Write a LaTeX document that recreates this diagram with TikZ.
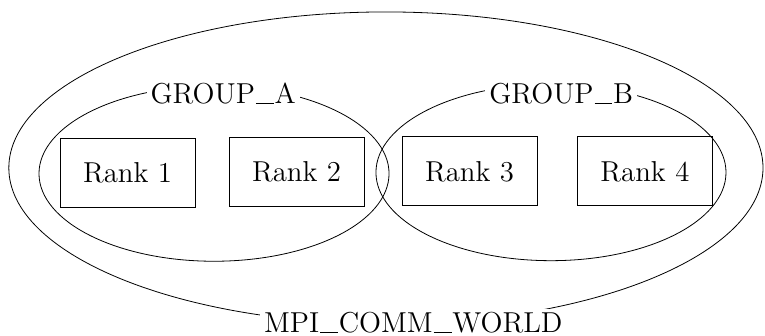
\documentclass[tikz,border=0pt]{standalone}
\usepackage{amsmath, amssymb}
\usepackage{xcolor}
\usepackage{tikz}
\usetikzlibrary{shapes.geometric}

% underscore sitting on the baseline, as in the figure
\newcommand{\uscore}{\kern0.03em\rule{0.62em}{0.45pt}\kern0.03em}

\tikzset{
  rank/.style={draw, rectangle, minimum width=2.37cm, minimum height=1.21cm, inner sep=0pt},
  commset/.style={draw, ellipse, inner sep=0pt},
  setname/.style={fill=white, inner sep=2pt, anchor=base}
}

\begin{document}
\begin{tikzpicture}[scale=1.0, every node/.style={font=\Large}]
          \useasboundingbox (0,0) rectangle (13.44,5.90);

          \node[commset, minimum width=13.25cm, minimum height=5.48cm] (world) at (6.78,2.95) {};
          \node[commset, minimum width=6.15cm, minimum height=3.08cm] (grpA) at (3.76,2.85) {};
          \node[commset, minimum width=6.15cm, minimum height=3.10cm] (grpB) at (9.68,2.87) {};

          \node[setname] (nameA) at (3.92,4.08) {GROUP\uscore A};
          \node[setname] (nameB) at (9.86,4.08) {GROUP\uscore B};
          \node[setname] (nameW) at (7.26,0.05) {MPI\uscore COMM\uscore WORLD};

          \node[rank] (r1) at (2.24,2.86) {Rank 1};
          \node[rank] (r2) at (5.21,2.88) {Rank 2};
          \node[rank] (r3) at (8.25,2.89) {Rank 3};
          \node[rank] (r4) at (11.33,2.89) {Rank 4};
        \end{tikzpicture}
\end{document}
